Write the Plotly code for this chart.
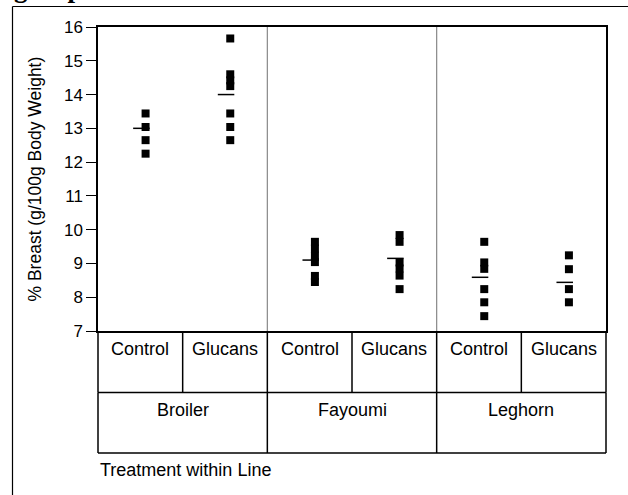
import plotly.graph_objects as go

# ---- data ----
lines = ["Broiler", "Fayoumi", "Leghorn"]
treatments = ["Control", "Glucans"]
y_title = "% Breast (g/100g Body Weight)"
x_title = "Treatment within Line"
title_text = "group means."

broiler_control = [13.44, 13.04, 12.65, 12.25]
broiler_glucans = [15.66, 14.60, 14.42, 14.25, 13.44, 13.04, 12.65]
fayoumi_control = [9.64, 9.44, 9.23, 9.04, 8.63, 8.45]
fayoumi_glucans = [9.84, 9.64, 9.03, 8.85, 8.64, 8.24]
leghorn_control = [9.64, 9.03, 8.84, 8.24, 7.85, 7.44]
leghorn_glucans = [9.24, 8.83, 8.24, 7.85]
group_means = [13.00, 14.00, 9.10, 9.15, 8.59, 8.44]

y_ticks = [7, 8, 9, 10, 11, 12, 13, 14, 15, 16]

groups = [broiler_control, broiler_glucans, fayoumi_control,
          fayoumi_glucans, leghorn_control, leghorn_glucans]
n_cells = len(groups)

FONT = "Liberation Sans, Arial, sans-serif"
fig = go.Figure()

# points
for i, vals in enumerate(groups):
    fig.add_trace(go.Scatter(
        x=[i + 0.062] * len(vals), y=vals, mode="markers",
        marker=dict(symbol="square", size=8, color="black"),
        showlegend=False, hoverinfo="y"))

# mean ticks
for i, m in enumerate(group_means):
    fig.add_trace(go.Scatter(
        x=[i - 0.085, i + 0.11], y=[m, m], mode="lines",
        line=dict(color="black", width=1.5),
        showlegend=False, hoverinfo="skip"))

shapes = []
# grey separators between lines
for k in range(1, len(lines)):
    xp = (2 * k) / n_cells
    shapes.append(dict(type="line", xref="paper", yref="paper",
                       x0=xp, x1=xp, y0=0, y1=1,
                       line=dict(color="#888888", width=1.2)))

# table below plot (paper coords)
r1 = (331 - 392.5) / 304
r2 = (331 - 453) / 304
for k in range(n_cells + 1):
    xp = k / n_cells
    shapes.append(dict(type="line", xref="paper", yref="paper",
                       x0=xp, x1=xp, y0=0, y1=r1,
                       line=dict(color="black", width=1.5)))
for k in range(len(lines) + 1):
    xp = 2 * k / n_cells
    shapes.append(dict(type="line", xref="paper", yref="paper",
                       x0=xp, x1=xp, y0=r1, y1=r2,
                       line=dict(color="black", width=1.5)))
for yy in (r1, r2):
    shapes.append(dict(type="line", xref="paper", yref="paper",
                       x0=0, x1=1, y0=yy, y1=yy,
                       line=dict(color="black", width=1.5)))

# outer page frame
fx = (12.5 - 98) / 508
fy = 1 + (27 - 6.5) / 304
shapes.append(dict(type="line", xref="paper", yref="paper",
                   x0=fx, x1=(640 - 98) / 508, y0=fy, y1=fy,
                   line=dict(color="black", width=1.2)))
shapes.append(dict(type="line", xref="paper", yref="paper",
                   x0=fx, x1=fx, y0=fy, y1=(331 - 510) / 304,
                   line=dict(color="black", width=1.2)))

annotations = []
for i in range(n_cells):
    annotations.append(dict(x=i, y=(331 - 349) / 304, xref="x", yref="paper",
                            text=treatments[i % 2], showarrow=False,
                            font=dict(family=FONT, size=18, color="black"),
                            xanchor="center", yanchor="middle"))
for j, ln in enumerate(lines):
    annotations.append(dict(x=2 * j + 0.5, y=(331 - 410) / 304, xref="x", yref="paper",
                            text=ln, showarrow=False,
                            font=dict(family=FONT, size=18, color="black"),
                            xanchor="center", yanchor="middle"))
annotations.append(dict(x=0.0, y=(331 - 470) / 304, xref="paper", yref="paper",
                        text=x_title, showarrow=False,
                        font=dict(family=FONT, size=18, color="black"),
                        xanchor="left", yanchor="middle"))
annotations.append(dict(x=(34.5 - 98) / 508, y=0.5, xref="paper", yref="paper",
                        text=y_title, showarrow=False, textangle=-90,
                        font=dict(family=FONT, size=17.5, color="black"),
                        xanchor="center", yanchor="middle"))
annotations.append(dict(x=(12 - 98) / 508, y=1 + (27 - 2.5) / 304, xref="paper", yref="paper",
                        text="<b>" + title_text + "</b>", showarrow=False,
                        font=dict(family="Liberation Serif, Times New Roman, serif",
                                  size=27, color="black"),
                        xanchor="left", yanchor="bottom", yshift=-3))

fig.update_layout(
    width=628, height=495,
    margin=dict(l=98, r=22, t=27, b=164, autoexpand=False),
    paper_bgcolor="white", plot_bgcolor="white",
    shapes=shapes, annotations=annotations,
    xaxis=dict(range=[-0.5, n_cells - 0.5], showticklabels=False, ticks="",
               showgrid=False, zeroline=False, showline=True, mirror=True,
               linecolor="black", linewidth=1.5),
    yaxis=dict(range=[7, 16], tickvals=y_ticks, ticks="outside", ticklen=10,
               tickcolor="black", tickwidth=1, showgrid=False, zeroline=False,
               showline=True, mirror=True, linecolor="black", linewidth=1.5,
               tickfont=dict(family=FONT, size=17, color="black")),
)

fig.write_html("out.html", config={"displayModeBar": False},
               post_script="document.body.style.margin='0px';document.body.style.overflow='hidden';")
